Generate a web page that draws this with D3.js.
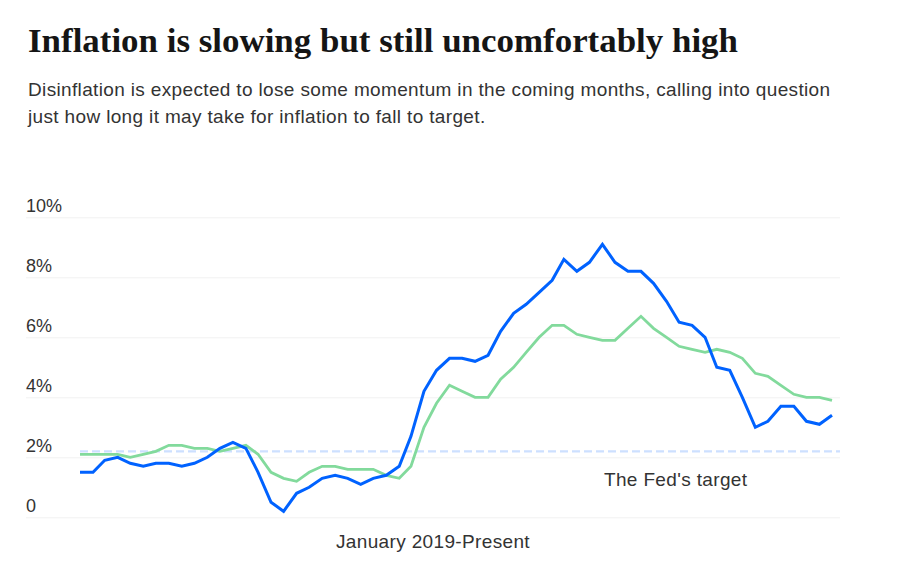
<!DOCTYPE html>
<html>
<head>
<meta charset="utf-8">
<script src="https://cdn.jsdelivr.net/npm/d3@7"></script>
<style>
  html, body { margin: 0; padding: 0; background: #fff; }
  svg { display: block; }
</style>
</head>
<body>
<svg id="chart" width="912" height="570"></svg>
<script>
// ---- data ----
const title = "Inflation is slowing but still uncomfortably high";
const subtitleLines = [
  "Disinflation is expected to lose some momentum in the coming months, calling into question",
  "just how long it may take for inflation to fall to target."
];
const xLabel = "January 2019-Present";
const targetLabel = "The Fed's target";
const startMonth = "2019-01";
const endMonth = "2023-12";
const yTicks = [0, 2, 4, 6, 8, 10];
const yTickLabels = ["0", "2%", "4%", "6%", "8%", "10%"];
const fedTarget = 2.2;
// headline CPI, year over year %
const headline = [
  1.5, 1.5, 1.9, 2.0, 1.8, 1.7, 1.8, 1.8, 1.7, 1.8, 2.0, 2.3,
  2.5, 2.3, 1.5, 0.5, 0.2, 0.8, 1.0, 1.3, 1.4, 1.3, 1.1, 1.3,
  1.4, 1.7, 2.7, 4.2, 4.9, 5.3, 5.3, 5.2, 5.4, 6.2, 6.8, 7.1,
  7.5, 7.9, 8.6, 8.2, 8.5, 9.1, 8.5, 8.2, 8.2, 7.8, 7.2, 6.5,
  6.4, 6.0, 5.0, 4.9, 4.0, 3.0, 3.2, 3.7, 3.7, 3.2, 3.1, 3.4
];
// core CPI, year over year %
const core = [
  2.1, 2.1, 2.1, 2.1, 2.0, 2.1, 2.2, 2.4, 2.4, 2.3, 2.3, 2.2,
  2.3, 2.4, 2.1, 1.5, 1.3, 1.2, 1.5, 1.7, 1.7, 1.6, 1.6, 1.6,
  1.4, 1.3, 1.7, 3.0, 3.8, 4.4, 4.2, 4.0, 4.0, 4.6, 5.0, 5.5,
  6.0, 6.4, 6.4, 6.1, 6.0, 5.9, 5.9, 6.3, 6.7, 6.3, 6.0, 5.7,
  5.6, 5.5, 5.6, 5.5, 5.3, 4.8, 4.7, 4.4, 4.1, 4.0, 4.0, 3.9
];

// ---- drawing ----
const parseMonth = d3.timeParse("%Y-%m");
const t0 = parseMonth(startMonth), t1 = parseMonth(endMonth);
const months = d3.timeMonth.range(t0, d3.timeMonth.offset(t1, 1));

const svg = d3.select("#chart");
const gridLeft = 26, gridRight = 840;
const sans = "'Liberation Sans', Arial, sans-serif";

const x = d3.scaleTime().domain([t0, t1]).range([80, 832]);
const y = d3.scaleLinear().domain([0, 10]).range([517.3, 217.3]);

// title
svg.append("text")
  .attr("x", 28).attr("y", 52)
  .attr("font-family", "'Liberation Serif', 'DejaVu Serif', serif")
  .attr("font-weight", "bold")
  .attr("font-size", 34)
  .attr("fill", "#151515")
  .attr("textLength", 710)
  .attr("lengthAdjust", "spacingAndGlyphs")
  .text(title);

// subtitle
svg.append("g").selectAll("text")
  .data(subtitleLines)
  .join("text")
  .attr("x", 28)
  .attr("y", (d, i) => 96 + i * 26.5)
  .attr("font-family", sans)
  .attr("font-size", 19)
  .attr("letter-spacing", 0.35)
  .attr("fill", "#333")
  .text(d => d);

// y axis gridlines + labels
const yAxis = d3.axisLeft(y)
  .tickValues(yTicks)
  .tickSize(-(gridRight - gridLeft))
  .tickFormat((d, i) => yTickLabels[i]);
const gy = svg.append("g")
  .attr("transform", `translate(${gridLeft},0)`)
  .call(yAxis);
gy.select(".domain").remove();
gy.selectAll(".tick line").attr("stroke", "#f1f1f1").attr("stroke-width", 1);
gy.selectAll(".tick text")
  .attr("x", 0)
  .attr("dy", "-6")
  .attr("text-anchor", "start")
  .attr("font-family", sans)
  .attr("font-size", 18)
  .attr("fill", "#333");

// Fed target dashed line
svg.append("line")
  .attr("x1", x(t0)).attr("x2", gridRight)
  .attr("y1", y(fedTarget)).attr("y2", y(fedTarget))
  .attr("stroke", "#cde0ff")
  .attr("stroke-width", 2.2)
  .attr("stroke-dasharray", "8 4");

svg.append("text")
  .attr("x", 604).attr("y", 486)
  .attr("font-family", sans)
  .attr("font-size", 19)
  .attr("letter-spacing", 0.35)
  .attr("fill", "#333")
  .text(targetLabel);

// lines
const line = d3.line()
  .x((d, i) => x(months[i]))
  .y(d => y(d));

svg.append("path")
  .datum(core)
  .attr("fill", "none")
  .attr("stroke", "#82da9c")
  .attr("stroke-width", 2.8)
  .attr("stroke-linejoin", "miter")
  .attr("d", line);

svg.append("path")
  .datum(headline)
  .attr("fill", "none")
  .attr("stroke", "#0062ff")
  .attr("stroke-width", 3)
  .attr("stroke-linejoin", "miter")
  .attr("d", line);

// x label
svg.append("text")
  .attr("x", (gridLeft + gridRight) / 2)
  .attr("y", 548)
  .attr("text-anchor", "middle")
  .attr("font-family", sans)
  .attr("font-size", 19)
  .attr("letter-spacing", 0.35)
  .attr("fill", "#333")
  .text(xLabel);
</script>
</body>
</html>
